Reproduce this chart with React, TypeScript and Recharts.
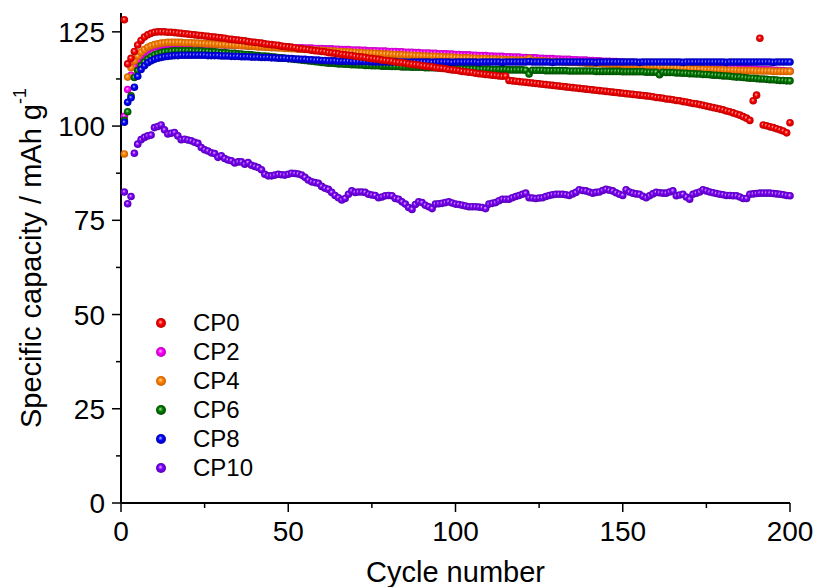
import { ScatterChart, Scatter, XAxis, YAxis } from "recharts";

const FONT = '"Liberation Sans", Arial, sans-serif';

// specific capacity (mAh/g) per cycle, cycle 1..200
const cp0 = [
  128.2, 116.5, 118.0, 119.8, 121.5, 122.7, 123.6, 124.2, 124.6, 124.9,
  125.0, 125.0, 125.0, 124.9, 124.9, 124.8, 124.7, 124.6, 124.5, 124.4,
  124.3, 124.2, 124.1, 124.0, 123.9, 123.8, 123.7, 123.6, 123.5, 123.4,
  123.3, 123.1, 123.0, 122.9, 122.8, 122.7, 122.6, 122.4, 122.3, 122.2,
  122.1, 122.0, 121.8, 121.7, 121.6, 121.5, 121.4, 121.2, 121.1, 121.0,
  120.9, 120.8, 120.6, 120.5, 120.4, 120.3, 120.1, 120.0, 119.9, 119.8,
  119.7, 119.5, 119.4, 119.3, 119.2, 119.0, 118.9, 118.8, 118.7, 118.5,
  118.4, 118.3, 118.2, 118.0, 117.9, 117.8, 117.7, 117.5, 117.4, 117.3,
  117.2, 117.0, 116.9, 116.8, 116.7, 116.5, 116.4, 116.3, 116.2, 116.0,
  115.9, 115.8, 115.7, 115.5, 115.4, 115.3, 115.2, 115.0, 114.9, 114.8,
  114.7, 114.5, 114.4, 114.3, 114.2, 114.0, 113.9, 113.8, 113.7, 113.6,
  113.5, 113.4, 113.3, 113.2, 113.3, 112.1, 112.0, 111.9, 111.8, 111.7,
  111.6, 111.5, 111.4, 111.3, 111.2, 111.1, 111.0, 110.9, 110.8, 110.7,
  110.6, 110.5, 110.4, 110.3, 110.2, 110.1, 110.0, 109.9, 109.8, 109.7,
  109.6, 109.5, 109.4, 109.3, 109.2, 109.1, 109.0, 108.9, 108.8, 108.7,
  108.6, 108.5, 108.4, 108.3, 108.2, 108.1, 108.0, 107.9, 107.8, 107.6,
  107.5, 107.4, 107.2, 107.1, 107.0, 106.8, 106.7, 106.5, 106.4, 106.2,
  106.0, 105.9, 105.7, 105.5, 105.3, 105.1, 104.9, 104.7, 104.5, 104.3,
  104.0, 103.8, 103.5, 103.2, 102.9, 102.5, 102.1, 101.5, 106.7, 108.2,
  123.3, 100.3, 100.1, 99.8, 99.6, 99.3, 99.0, 98.7, 98.2, 100.9,
];

const cp2 = [
  102.6, 109.7, 113.5, 115.8, 117.4, 118.6, 119.5, 120.2, 120.7, 121.0,
  121.2, 121.4, 121.5, 121.6, 121.7, 121.7, 121.8, 121.8, 121.8, 121.8,
  121.8, 121.8, 121.7, 121.7, 121.7, 121.7, 121.6, 121.6, 121.6, 121.6,
  121.5, 121.5, 121.5, 121.4, 121.4, 121.4, 121.3, 121.3, 121.3, 121.2,
  121.2, 121.2, 121.1, 121.1, 121.1, 121.0, 121.0, 121.0, 120.9, 120.9,
  120.9, 120.8, 120.8, 120.8, 120.7, 120.7, 120.7, 120.6, 120.6, 120.6,
  120.5, 120.5, 120.5, 120.4, 120.4, 120.3, 120.3, 120.3, 120.2, 120.2,
  120.2, 120.1, 120.1, 120.0, 120.0, 120.0, 119.9, 119.9, 119.9, 119.8,
  119.8, 119.8, 119.7, 119.7, 119.6, 119.6, 119.6, 119.5, 119.5, 119.4,
  119.4, 119.4, 119.3, 119.3, 119.2, 119.2, 119.2, 119.1, 119.1, 119.0,
  119.0, 118.9, 118.9, 118.9, 118.8, 118.8, 118.7, 118.7, 118.7, 118.6,
  118.6, 118.5, 118.5, 118.5, 118.4, 118.4, 118.3, 118.3, 118.3, 118.2,
  118.2, 118.1, 118.1, 118.1, 118.0, 118.0, 117.9, 117.9, 117.9, 117.8,
  117.8, 117.7, 117.7, 117.7, 117.6, 117.6, 117.5, 117.5, 117.5, 117.4,
  117.4, 117.3, 117.3, 117.2, 117.2, 117.2, 117.1, 117.1, 117.0, 117.0,
  116.9, 116.9, 116.9, 116.8, 116.8, 116.7, 116.7, 116.6, 116.6, 116.6,
  116.5, 116.5, 116.4, 116.4, 116.3, 116.3, 116.2, 116.2, 116.1, 116.1,
  116.0, 116.0, 115.9, 115.9, 115.8, 115.8, 115.7, 115.7, 115.6, 115.6,
  115.5, 115.5, 115.4, 115.4, 115.3, 115.3, 115.2, 115.2, 115.1, 115.1,
  115.0, 115.0, 114.9, 114.9, 114.8, 114.8, 114.7, 114.7, 114.6, 114.6,
];

const cp4 = [
  92.6, 113.0, 115.5, 117.3, 118.6, 119.6, 120.3, 120.9, 121.3, 121.6,
  121.8, 122.0, 122.1, 122.2, 122.2, 122.2, 122.2, 122.2, 122.1, 122.1,
  122.1, 122.0, 122.0, 121.9, 121.9, 121.8, 121.8, 121.7, 121.7, 121.6,
  121.6, 121.5, 121.5, 121.4, 121.4, 121.3, 121.3, 121.2, 121.2, 121.1,
  121.0, 121.0, 120.9, 120.9, 120.8, 120.8, 120.7, 120.7, 120.6, 120.6,
  120.5, 120.5, 120.4, 120.4, 120.3, 120.3, 120.2, 120.2, 120.1, 120.1,
  120.0, 120.0, 119.9, 119.9, 119.8, 119.8, 119.7, 119.7, 119.6, 119.6,
  119.5, 119.5, 119.4, 119.4, 119.3, 119.3, 119.2, 119.2, 119.1, 119.1,
  119.0, 119.0, 118.9, 118.9, 118.8, 118.8, 118.8, 118.7, 118.7, 118.6,
  118.6, 118.5, 118.5, 118.5, 118.4, 118.4, 118.3, 118.3, 118.3, 118.2,
  118.2, 118.1, 118.1, 118.1, 118.0, 118.0, 117.9, 117.9, 117.9, 117.8,
  117.8, 117.8, 117.7, 117.7, 117.6, 117.6, 117.6, 117.5, 117.5, 117.5,
  117.4, 117.9, 117.4, 117.3, 117.3, 117.3, 117.2, 117.2, 117.1, 117.1,
  117.1, 117.0, 117.0, 116.9, 116.9, 116.9, 116.8, 116.8, 116.7, 116.7,
  116.7, 116.6, 116.6, 116.5, 116.5, 116.4, 116.4, 116.4, 116.3, 116.3,
  116.2, 116.2, 116.1, 116.1, 116.0, 116.0, 115.9, 115.9, 115.8, 115.8,
  115.7, 115.7, 115.6, 115.6, 115.5, 115.5, 115.4, 115.4, 115.3, 115.3,
  115.2, 115.2, 115.1, 115.1, 115.0, 115.0, 115.0, 114.9, 114.9, 114.9,
  114.8, 114.8, 114.8, 114.8, 114.7, 114.7, 114.7, 114.7, 114.7, 114.6,
  114.6, 114.6, 114.6, 114.6, 114.5, 114.5, 114.5, 114.5, 114.5, 114.5,
];

const cp6 = [
  101.5, 103.8, 108.0, 112.9, 114.7, 116.0, 117.0, 117.8, 118.4, 118.9,
  119.2, 119.5, 119.7, 119.8, 119.9, 120.0, 120.0, 120.0, 120.0, 120.0,
  120.0, 119.9, 119.9, 119.9, 119.8, 119.8, 119.7, 119.7, 119.6, 119.5,
  119.5, 119.4, 119.3, 119.3, 119.2, 119.1, 119.0, 119.0, 118.9, 118.8,
  118.7, 118.6, 118.6, 118.5, 118.4, 118.3, 118.2, 118.1, 118.0, 117.9,
  117.8, 117.7, 117.6, 117.5, 117.4, 117.3, 117.2, 117.1, 117.0, 116.9,
  116.8, 116.7, 116.7, 116.6, 116.5, 116.5, 116.4, 116.4, 116.3, 116.3,
  116.2, 116.2, 116.1, 116.1, 116.0, 116.0, 116.0, 115.9, 115.9, 115.9,
  115.8, 115.8, 115.8, 115.7, 115.7, 115.7, 115.6, 115.6, 115.6, 115.6,
  115.5, 115.5, 115.5, 115.5, 115.4, 115.4, 115.4, 115.4, 115.3, 115.3,
  115.3, 115.3, 115.2, 115.2, 115.2, 115.2, 115.1, 115.1, 115.1, 115.1,
  115.0, 115.0, 115.0, 115.0, 115.0, 114.9, 114.9, 114.9, 114.9, 114.9,
  114.8, 113.8, 114.8, 114.8, 114.8, 114.8, 114.7, 114.7, 114.7, 114.7,
  114.7, 114.7, 114.7, 114.6, 114.6, 114.6, 114.6, 114.6, 114.6, 114.6,
  114.6, 114.5, 114.5, 114.5, 114.5, 114.5, 114.5, 114.5, 114.5, 114.4,
  114.4, 114.4, 114.4, 114.4, 114.4, 114.4, 114.3, 114.3, 114.3, 114.3,
  113.6, 114.3, 114.2, 114.2, 114.2, 114.1, 114.1, 114.0, 114.0, 113.9,
  113.9, 113.8, 113.8, 113.7, 113.7, 113.6, 113.5, 113.5, 113.4, 113.3,
  113.3, 113.2, 113.1, 113.0, 113.0, 112.9, 112.8, 112.7, 112.7, 112.6,
  112.5, 112.5, 112.4, 112.3, 112.3, 112.2, 112.1, 112.1, 112.0, 112.0,
];

const cp8 = [
  101.0, 106.3, 107.5, 110.3, 113.2, 115.0, 116.0, 116.8, 117.3, 117.7,
  118.0, 118.2, 118.4, 118.5, 118.6, 118.7, 118.7, 118.8, 118.8, 118.8,
  118.8, 118.8, 118.8, 118.8, 118.8, 118.7, 118.7, 118.7, 118.7, 118.6,
  118.6, 118.6, 118.5, 118.5, 118.5, 118.4, 118.4, 118.4, 118.3, 118.3,
  118.3, 118.2, 118.2, 118.2, 118.1, 118.1, 118.0, 118.0, 118.0, 117.9,
  117.9, 117.8, 117.8, 117.7, 117.7, 117.6, 117.6, 117.5, 117.5, 117.4,
  117.4, 117.3, 117.3, 117.3, 117.2, 117.2, 117.2, 117.2, 117.1, 117.1,
  117.1, 117.1, 117.1, 117.1, 117.0, 117.0, 117.0, 117.0, 117.0, 117.0,
  117.0, 117.1, 117.0, 117.0, 117.0, 116.9, 117.0, 117.0, 117.0, 117.0,
  117.0, 117.0, 116.9, 117.0, 117.0, 117.0, 117.0, 117.0, 116.9, 117.0,
  117.0, 117.0, 117.0, 117.0, 117.0, 117.0, 116.9, 117.0, 117.0, 117.0,
  117.0, 117.0, 117.0, 116.9, 117.0, 117.0, 117.0, 117.0, 117.0, 117.0,
  117.0, 117.1, 117.0, 117.0, 117.0, 117.0, 117.0, 117.0, 116.9, 117.0,
  117.0, 117.0, 117.0, 117.0, 117.0, 117.0, 117.0, 117.0, 117.0, 117.0,
  117.0, 116.9, 117.0, 117.0, 117.0, 117.0, 117.0, 117.0, 117.0, 117.0,
  117.0, 117.0, 117.0, 117.0, 116.9, 117.0, 117.0, 117.0, 117.0, 117.0,
  117.0, 117.0, 117.0, 117.0, 117.0, 117.0, 117.0, 116.9, 117.0, 117.0,
  117.0, 117.0, 117.0, 117.0, 117.0, 117.0, 117.0, 117.0, 117.0, 117.0,
  116.9, 117.0, 117.0, 117.0, 117.0, 117.0, 117.0, 117.0, 117.0, 117.0,
  117.0, 117.0, 117.0, 117.0, 116.9, 117.0, 117.0, 117.0, 117.0, 117.0,
];

const cp10 = [
  82.5, 79.4, 81.3, 92.8, 95.2, 96.4, 97.0, 97.4, 97.6, 99.6,
  99.9, 100.3, 99.0, 97.9, 98.1, 98.3, 97.4, 96.4, 96.5, 96.3,
  96.1, 95.7, 95.4, 94.3, 93.7, 93.4, 92.9, 92.7, 91.7, 92.1,
  91.4, 91.0, 90.8, 90.2, 90.5, 90.5, 89.9, 90.3, 89.6, 89.3,
  89.0, 88.4, 87.2, 86.8, 86.8, 87.0, 87.2, 87.1, 87.0, 87.2,
  87.5, 87.4, 87.3, 87.0, 86.4, 85.7, 85.2, 85.0, 84.8, 84.0,
  83.5, 83.2, 82.4, 81.6, 81.0, 80.4, 80.8, 81.9, 82.8, 82.4,
  82.5, 82.5, 82.4, 81.9, 81.7, 81.6, 81.0, 81.2, 81.5, 81.6,
  81.5, 80.8, 80.6, 79.9, 79.3, 78.4, 77.9, 79.2, 79.9, 79.7,
  79.0, 78.6, 78.1, 79.3, 79.4, 79.5, 79.7, 79.9, 79.6, 79.3,
  79.2, 79.0, 78.8, 78.6, 78.6, 78.6, 78.5, 78.4, 78.1, 79.3,
  79.5, 79.7, 80.2, 80.6, 80.6, 80.6, 81.0, 81.3, 81.6, 81.9,
  82.2, 81.0, 80.9, 80.8, 80.9, 81.0, 81.3, 81.6, 81.8, 81.9,
  81.9, 81.9, 81.8, 81.6, 82.0, 82.4, 83.1, 82.9, 82.8, 82.5,
  82.2, 82.4, 82.5, 82.9, 83.2, 83.0, 82.8, 82.3, 81.9, 81.6,
  83.1, 82.5, 82.2, 82.0, 81.9, 81.4, 81.0, 81.5, 82.0, 82.4,
  82.3, 82.2, 82.2, 82.5, 82.8, 81.5, 81.7, 81.9, 81.2, 80.6,
  81.9, 82.2, 82.5, 83.1, 82.8, 82.5, 82.3, 82.1, 81.9, 81.8,
  81.6, 81.6, 81.5, 81.5, 81.2, 80.8, 80.8, 81.9, 82.0, 82.1,
  82.2, 82.2, 82.2, 82.2, 82.1, 82.0, 81.9, 81.8, 81.6, 81.5,
];

const seriesNames = ["CP0", "CP2", "CP4", "CP6", "CP8", "CP10"];
const seriesValues = [cp0, cp2, cp4, cp6, cp8, cp10];
const seriesColors = ["#ff0000", "#ff00ff", "#ff8000", "#008000", "#0000ff", "#8000ff"];
const seriesLight = ["#ffc0c0", "#ffc0ff", "#ffd8b0", "#a8e0a8", "#c0c0ff", "#dcb8ff"];
const seriesDark = ["#b80000", "#b800b8", "#c86000", "#004800", "#0000a8", "#5200b0"];
// draw order: CP10 underneath, CP0 on top
const drawOrder = [5, 1, 2, 3, 4, 0];

const xTicks = [0, 25, 50, 75, 100, 125, 150, 175, 200];
const yTicks = [0, 12.5, 25, 37.5, 50, 62.5, 75, 87.5, 100, 112.5, 125];

const toPoints = (values: number[]) => values.map((v, i) => ({ cycle: i + 1, value: v }));

function Ball(props: any) {
  const { cx, cy, idx } = props;
  if (cx == null || cy == null) return null;
  return <circle cx={cx} cy={cy} r={3.8} fill={`url(#ball-${idx})`} />;
}

function YTick(props: any) {
  const { x, y, payload } = props;
  const major = payload.value % 25 === 0;
  return (
    <g>
      <line x1={x} x2={x - (major ? 9 : 5)} y1={y} y2={y} stroke="#000" strokeWidth={1.5} />
      {major && (
        <text x={x - 16} y={y + 10} textAnchor="end" fontSize={28} fontFamily={FONT} fill="#000">
          {payload.value}
        </text>
      )}
    </g>
  );
}

function XTick(props: any) {
  const { x, y, payload } = props;
  const major = payload.value % 50 === 0;
  return (
    <g>
      <line x1={x} x2={x} y1={y} y2={y + (major ? 9 : 5)} stroke="#000" strokeWidth={1.5} />
      {major && (
        <text x={x} y={y + 38} textAnchor="middle" fontSize={28} fontFamily={FONT} fill="#000">
          {payload.value}
        </text>
      )}
    </g>
  );
}

function YTitle(props: any) {
  const { viewBox } = props;
  const cx = viewBox.x + 31;
  const cy = viewBox.y + viewBox.height / 2;
  return (
    <text
      x={cx}
      y={cy}
      transform={`rotate(-90 ${cx} ${cy})`}
      textAnchor="middle"
      dominantBaseline="central"
      fontSize={29}
      fontFamily={FONT}
      fill="#000"
    >
      Specific capacity / mAh g
      <tspan fontSize={18} dy={-11}>-1</tspan>
    </text>
  );
}

function XTitle(props: any) {
  const { viewBox } = props;
  return (
    <text
      x={viewBox.x + viewBox.width / 2}
      y={viewBox.y + 79}
      textAnchor="middle"
      fontSize={29}
      fontFamily={FONT}
      fill="#000"
    >
      Cycle number
    </text>
  );
}

export default function App() {
  return (
    <div style={{ position: "absolute", left: 0, top: 0, width: 814, height: 587, background: "#fff", overflow: "hidden" }}>
      <svg width={0} height={0} style={{ position: "absolute" }}>
        <defs>
          {seriesColors.map((c, i) => (
            <radialGradient key={c} id={`ball-${i}`} cx="50%" cy="50%" r="50%" fx="42%" fy="38%">
              <stop offset="0%" stopColor={seriesLight[i]} />
              <stop offset="45%" stopColor={c} />
              <stop offset="100%" stopColor={seriesDark[i]} />
            </radialGradient>
          ))}
        </defs>
      </svg>

      <ScatterChart width={814} height={587} margin={{ top: 13, right: 24, bottom: 34, left: 0 }} style={{ overflow: "visible" }}>
        <XAxis
          dataKey="cycle"
          type="number"
          domain={[0, 200]}
          ticks={xTicks}
          interval={0}
          height={50}
          tickSize={0}
          tickMargin={0}
          tickLine={false}
          tick={<XTick />}
          axisLine={{ stroke: "#000", strokeWidth: 2 }}
          label={<XTitle />}
        />
        <XAxis
          xAxisId="top"
          orientation="top"
          type="number"
          domain={[0, 200]}
          height={0}
          tick={false}
          tickLine={false}
          axisLine={{ stroke: "#000", strokeWidth: 2 }}
        />
        <YAxis
          dataKey="value"
          type="number"
          domain={[0, 130]}
          ticks={yTicks}
          interval={0}
          width={121}
          tickSize={0}
          tickMargin={0}
          tickLine={false}
          tick={<YTick />}
          axisLine={{ stroke: "#000", strokeWidth: 2 }}
          label={<YTitle />}
        />
        <YAxis
          yAxisId="right"
          orientation="right"
          type="number"
          domain={[0, 130]}
          width={0}
          tick={false}
          tickLine={false}
          axisLine={{ stroke: "#000", strokeWidth: 2 }}
        />
        {drawOrder.map((i) => (
          <Scatter
            key={seriesNames[i]}
            name={seriesNames[i]}
            data={toPoints(seriesValues[i])}
            fill={seriesColors[i]}
            shape={(p: any) => <Ball {...p} idx={i} />}
            isAnimationActive={false}
          />
        ))}
      </ScatterChart>

      <div style={{ position: "absolute", left: 154, top: 308, fontFamily: FONT, fontSize: 24, color: "#000" }}>
        {seriesNames.map((name, i) => (
          <div key={name} style={{ display: "flex", alignItems: "center", height: 29, lineHeight: "29px" }}>
            <svg width={14} height={14} style={{ display: "block" }}>
              <circle cx={7} cy={7} r={5} fill={`url(#ball-${i})`} />
            </svg>
            <span style={{ marginLeft: 25 }}>{name}</span>
          </div>
        ))}
      </div>
    </div>
  );
}
